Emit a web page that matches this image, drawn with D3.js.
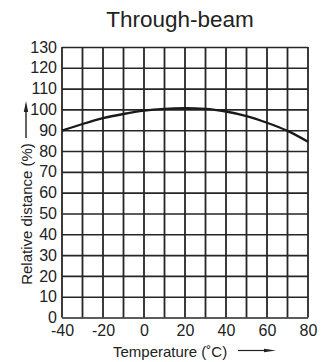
<!DOCTYPE html>
<html>
<head>
<meta charset="utf-8">
<script src="https://cdn.jsdelivr.net/npm/d3@7/dist/d3.min.js"></script>
<style>
  html, body { margin: 0; padding: 0; background: #fff; }
  svg { display: block; font-family: "Liberation Sans", Arial, Helvetica, sans-serif; }
</style>
</head>
<body>
<svg id="chart" width="324" height="362"></svg>
<script>
// Relative sensing distance vs. ambient temperature
const temperatures = [-40, -30, -20, -10, 0, 10, 20, 30, 40, 50, 60, 70, 80];
const relativeDistance = [89.8, 93, 95.8, 97.8, 99.4, 100.3, 100.6, 100.3, 99, 96.8, 93.6, 89.7, 84.5];
const xTickValues = [-40, -30, -20, -10, 0, 10, 20, 30, 40, 50, 60, 70, 80];
const xTickLabels = [-40, -20, 0, 20, 40, 60, 80];
const yTickValues = [0, 10, 20, 30, 40, 50, 60, 70, 80, 90, 100, 110, 120, 130];

const title = "Through-beam";
const xTitle = "Temperature (˚C)";
const yTitle = "Relative distance (%)";

const svg = d3.select("#chart");
const plotLeft = 62, plotRight = 308, plotTop = 47, plotBottom = 317.5;

const x = d3.scaleLinear().domain([-40, 80]).range([plotLeft, plotRight]);
const y = d3.scaleLinear().domain([0, 130]).range([plotBottom, plotTop]);

const ink = "#262626";
const plain = d => String(d); // ASCII hyphen for negatives

// Title
svg.append("text")
  .attr("x", 180).attr("y", 27.3)
  .attr("text-anchor", "middle")
  .attr("font-size", 22.5)
  .attr("fill", "#222")
  .text(title);

// Horizontal grid lines + y labels
const yAxis = svg.append("g")
  .attr("transform", `translate(${plotLeft},0)`)
  .call(d3.axisLeft(y).tickValues(yTickValues).tickSize(-(plotRight - plotLeft)).tickPadding(5).tickFormat(plain));
yAxis.select(".domain").remove();
yAxis.selectAll(".tick line").attr("stroke", ink).attr("stroke-width", 1.6);
yAxis.selectAll(".tick text").attr("font-size", 16).attr("fill", "#222").attr("font-family", "\"Liberation Sans\", Arial, sans-serif");

// Vertical grid lines
svg.append("g").selectAll("line")
  .data(xTickValues)
  .join("line")
  .attr("x1", d => x(d)).attr("x2", d => x(d))
  .attr("y1", plotTop).attr("y2", plotBottom)
  .attr("stroke", ink).attr("stroke-width", 1.8);

// x labels
const xAxis = svg.append("g")
  .attr("transform", `translate(0,${plotBottom})`)
  .call(d3.axisBottom(x).tickValues(xTickLabels).tickSize(0).tickPadding(7).tickFormat(plain));
xAxis.select(".domain").remove();
xAxis.selectAll(".tick text").attr("font-size", 16).attr("fill", "#222").attr("font-family", "\"Liberation Sans\", Arial, sans-serif");

// Curve
const line = d3.line()
  .x((d, i) => x(temperatures[i]))
  .y(d => y(d))
  .curve(d3.curveMonotoneX);
svg.append("path")
  .datum(relativeDistance)
  .attr("d", line)
  .attr("fill", "none")
  .attr("stroke", "#1a1a1a")
  .attr("stroke-width", 2.3);

// Axis titles with arrows
svg.append("text")
  .attr("x", 113).attr("y", 357)
  .attr("font-size", 15)
  .attr("fill", "#222")
  .text(xTitle);

svg.append("line")
  .attr("x1", 238).attr("x2", 266)
  .attr("y1", 350.5).attr("y2", 350.5)
  .attr("stroke", "#222").attr("stroke-width", 1.2);
svg.append("path")
  .attr("d", "M264,348.7 L276,350.5 L264,352.3 Z")
  .attr("fill", "#222");

svg.append("text")
  .attr("transform", "translate(31.5,214) rotate(-90)")
  .attr("text-anchor", "middle")
  .attr("font-size", 15)
  .attr("fill", "#222")
  .text(yTitle);

svg.append("line")
  .attr("x1", 26).attr("x2", 26)
  .attr("y1", 138).attr("y2", 110)
  .attr("stroke", "#222").attr("stroke-width", 1.4);
svg.append("path")
  .attr("d", "M23.8,112 L26,101 L28.2,112 Z")
  .attr("fill", "#222");
</script>
</body>
</html>
